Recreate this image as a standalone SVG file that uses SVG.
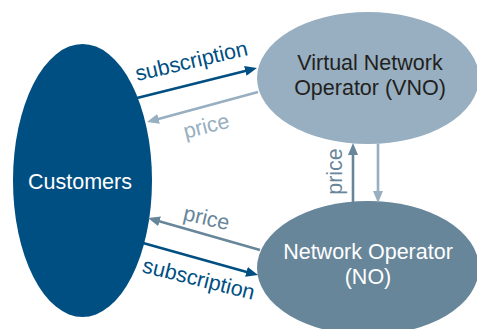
<svg xmlns="http://www.w3.org/2000/svg" width="477" height="329" viewBox="0 0 477 329">
<style>
text{font-family:"Liberation Sans",Arial,sans-serif;font-size:21.5px}
.c{fill:#ffffff;text-anchor:middle}
.v{fill:#231f20;text-anchor:middle}
.l{text-anchor:middle}
line{stroke-width:2.6;fill:none}
</style>
<defs>
<marker id="aDark" viewBox="0 0 12 10" refX="4" refY="5" markerWidth="12" markerHeight="10" markerUnits="userSpaceOnUse" orient="auto"><path d="M0,0 L12,5 L0,10 z" fill="#004f82"/></marker>
<marker id="aLight" viewBox="0 0 12 10" refX="4" refY="5" markerWidth="12" markerHeight="10" markerUnits="userSpaceOnUse" orient="auto"><path d="M0,0 L12,5 L0,10 z" fill="#97afc0"/></marker>
<marker id="aMid" viewBox="0 0 12 10" refX="4" refY="5" markerWidth="12" markerHeight="10" markerUnits="userSpaceOnUse" orient="auto"><path d="M0,0 L12,5 L0,10 z" fill="#67869a"/></marker>
</defs>
<rect width="477" height="329" fill="#ffffff"/>
<g id="customers">
<ellipse cx="82.5" cy="180.5" rx="69.5" ry="136.5" fill="#004f82"/>
<text class="c" x="80" y="189">Customers</text>
</g>
<g id="vno">
<ellipse cx="368" cy="78" rx="111" ry="66" fill="#97afc0"/>
<text class="v" x="370" y="70">Virtual Network</text>
<text class="v" x="370" y="95">Operator (VNO)</text>
</g>
<g id="no">
<ellipse cx="368" cy="268" rx="111" ry="67" fill="#67869a"/>
<text class="c" x="368" y="259">Network Operator</text>
<text class="c" x="368" y="284">(NO)</text>
</g>
<g id="connectors">
<line x1="137" y1="98" x2="249.2" y2="69.9" stroke="#004f82" marker-end="url(#aDark)"/>
<line x1="258" y1="92" x2="154.7" y2="119.9" stroke="#97afc0" marker-end="url(#aLight)"/>
<line x1="260" y1="250" x2="155.7" y2="220.2" stroke="#67869a" marker-end="url(#aMid)"/>
<line x1="143" y1="243" x2="250.3" y2="272.9" stroke="#004f82" marker-end="url(#aDark)"/>
<line x1="353" y1="202" x2="353" y2="151" stroke="#67869a" marker-end="url(#aMid)"/>
<line x1="378" y1="144" x2="378" y2="195" stroke="#97afc0" marker-end="url(#aLight)"/>
<text class="l" fill="#004f82" transform="translate(193,68) rotate(-13.2)">subscription</text>
<text class="l" fill="#97afc0" transform="translate(208,133) rotate(-14)">price</text>
<text class="l" fill="#67869a" transform="translate(205,225) rotate(13)">price</text>
<text class="l" fill="#004f82" transform="translate(197,286) rotate(14)">subscription</text>
<text class="l" fill="#67869a" transform="translate(342,171.5) rotate(-90)">price</text>
</g>
</svg>
